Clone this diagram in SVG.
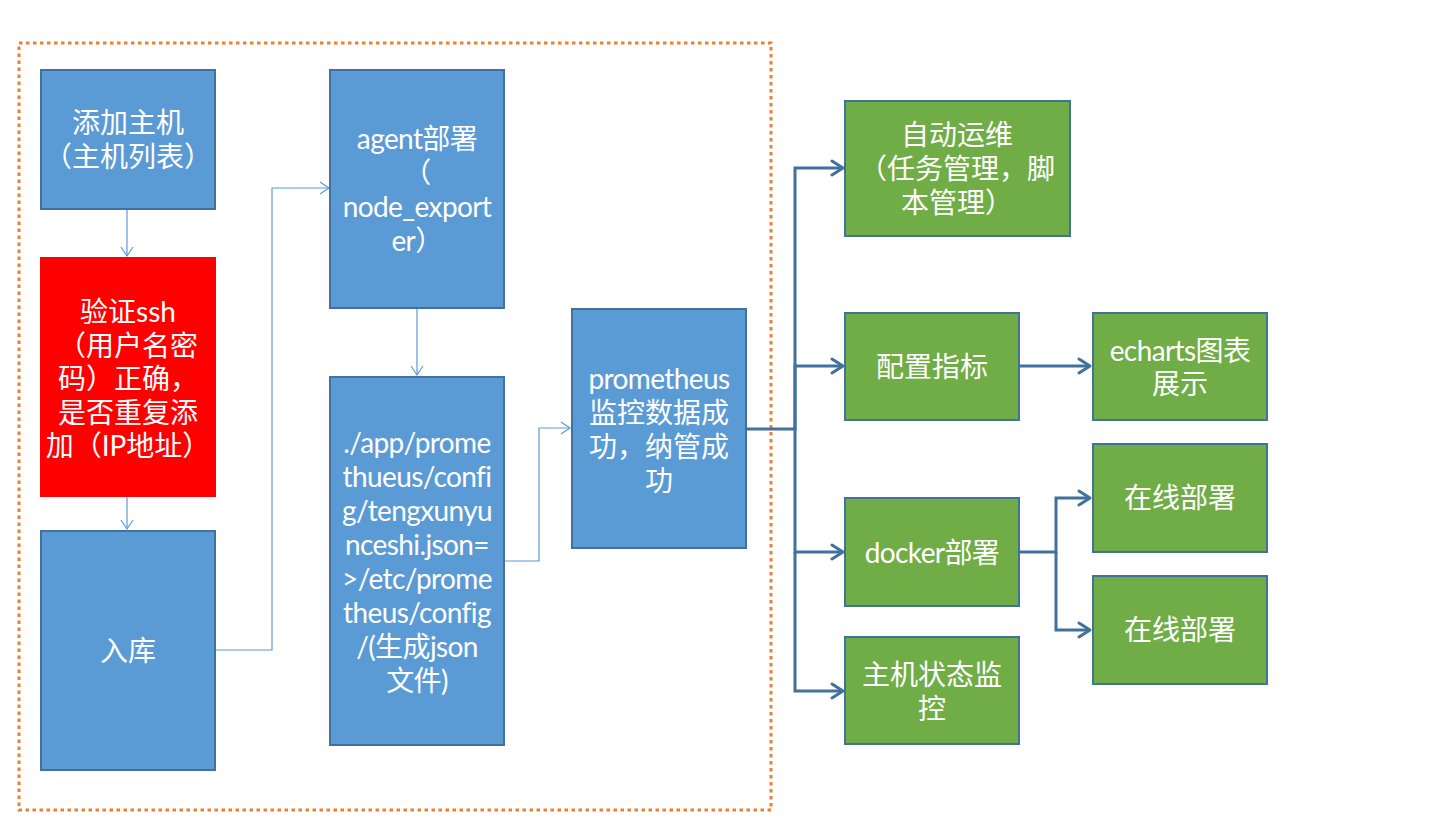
<svg xmlns="http://www.w3.org/2000/svg" width="1449" height="819" viewBox="0 0 1449 819">
<style>
.bg{fill:#ffffff}
.frame{fill:none;stroke:#ED7D31;stroke-width:3;stroke-dasharray:3.5 3.5}
.blue{fill:#5B9BD5;stroke:#41719C;stroke-width:2}
.red{fill:#FF0000;stroke:none}
.green{fill:#70AD47;stroke:#41719C;stroke-width:2}
.t{font-family:Lato,"Noto Sans CJK SC",sans-serif;font-size:28px;fill:#ffffff;text-anchor:middle;dominant-baseline:central}
.l{letter-spacing:-0.6px}
.thin{fill:none;stroke:#5B9BD5;stroke-width:1.2}
.thick{fill:none;stroke:#41719C;stroke-width:3}
</style>
<defs>
<marker id="aThin" markerUnits="userSpaceOnUse" markerWidth="12" markerHeight="16" refX="10" refY="7" orient="auto">
<path d="M1,1 L10,7 L1,13" fill="none" stroke="#5B9BD5" stroke-width="1.2"/>
</marker>
<marker id="aThick" markerUnits="userSpaceOnUse" markerWidth="16" markerHeight="20" refX="13" refY="9" orient="auto">
<path d="M2,2 L13,9 L2,16" fill="none" stroke="#41719C" stroke-width="3" stroke-linecap="round" stroke-linejoin="round"/>
</marker>
</defs>
<rect class="bg" x="0" y="0" width="1449" height="819"/>
<rect class="frame" x="19" y="43" width="752" height="767"/>

<g id="connectors">
<path class="thin" d="M127,210 V256" marker-end="url(#aThin)"/>
<path class="thin" d="M127,497 V529" marker-end="url(#aThin)"/>
<path class="thin" d="M216,650 H272 V188 H329" marker-end="url(#aThin)"/>
<path class="thin" d="M417,309 V375" marker-end="url(#aThin)"/>
<path class="thin" d="M505,561 H539 V428 H570" marker-end="url(#aThin)"/>
<path class="thick" d="M747,429 H795 V168 H843" marker-end="url(#aThick)"/>
<path class="thick" d="M795,429 V366 H843" marker-end="url(#aThick)"/>
<path class="thick" d="M795,429 V552 H843" marker-end="url(#aThick)"/>
<path class="thick" d="M795,552 V691 H843" marker-end="url(#aThick)"/>
<path class="thick" d="M1020,366 H1090" marker-end="url(#aThick)"/>
<path class="thick" d="M1020,552 H1056 V498 H1090" marker-end="url(#aThick)"/>
<path class="thick" d="M1056,552 V630 H1090" marker-end="url(#aThick)"/>
</g>

<g id="n-add-host">
<rect class="blue" x="41" y="70" width="174" height="139"/>
<text class="t"><tspan x="128" y="122">添加主机</tspan><tspan x="128" y="156">（主机列表）</tspan></text>
</g>
<g id="n-verify-ssh">
<rect class="red" x="40" y="257" width="176" height="240"/>
<text class="t"><tspan x="128" y="311">验证ssh</tspan><tspan x="128" y="345">（用户名密</tspan><tspan x="128" y="378">码）正确，</tspan><tspan x="128" y="412">是否重复添</tspan><tspan x="128" y="445">加（IP地址）</tspan></text>
</g>
<g id="n-store">
<rect class="blue" x="41" y="531" width="174" height="239"/>
<text class="t"><tspan x="128" y="650">入库</tspan></text>
</g>
<g id="n-agent">
<rect class="blue" x="330" y="70" width="174" height="238"/>
<text class="t l"><tspan x="417" y="138">agent部署</tspan><tspan x="417" y="172">（</tspan><tspan x="417" y="206">node_export</tspan><tspan x="417" y="240">er）</tspan></text>
</g>
<g id="n-config">
<rect class="blue" x="330" y="377" width="174" height="368"/>
<text class="t l"><tspan x="417" y="442">./app/prome</tspan><tspan x="417" y="476">thueus/confi</tspan><tspan x="417" y="510">g/tengxunyu</tspan><tspan x="417" y="544">nceshi.json=</tspan><tspan x="417" y="578">&gt;/etc/prome</tspan><tspan x="417" y="612">theus/config</tspan><tspan x="417" y="646">/(生成json</tspan><tspan x="417" y="680">文件)</tspan></text>
</g>
<g id="n-prometheus">
<rect class="blue" x="572" y="309" width="174" height="239"/>
<text class="t"><tspan class="l" x="659" y="378">prometheus</tspan><tspan x="659" y="412">监控数据成</tspan><tspan x="659" y="446">功，纳管成</tspan><tspan x="659" y="480">功</tspan></text>
</g>
<g id="n-auto-ops">
<rect class="green" x="845" y="101" width="225" height="135"/>
<text class="t"><tspan x="957" y="134">自动运维</tspan><tspan x="957" y="168">（任务管理，脚</tspan><tspan x="957" y="202">本管理）</tspan></text>
</g>
<g id="n-metrics">
<rect class="green" x="845" y="313" width="174" height="107"/>
<text class="t"><tspan x="932" y="366">配置指标</tspan></text>
</g>
<g id="n-echarts">
<rect class="green" x="1093" y="313" width="174" height="107"/>
<text class="t"><tspan class="l" x="1180" y="350">echarts图表</tspan><tspan x="1180" y="383">展示</tspan></text>
</g>
<g id="n-docker">
<rect class="green" x="845" y="498" width="174" height="108"/>
<text class="t"><tspan class="l" x="932" y="552">docker部署</tspan></text>
</g>
<g id="n-host-status">
<rect class="green" x="845" y="637" width="174" height="107"/>
<text class="t"><tspan x="932" y="674">主机状态监</tspan><tspan x="932" y="708">控</tspan></text>
</g>
<g id="n-online-1">
<rect class="green" x="1093" y="444" width="174" height="108"/>
<text class="t"><tspan x="1180" y="497">在线部署</tspan></text>
</g>
<g id="n-online-2">
<rect class="green" x="1093" y="576" width="174" height="108"/>
<text class="t"><tspan x="1180" y="629">在线部署</tspan></text>
</g>
</svg>
